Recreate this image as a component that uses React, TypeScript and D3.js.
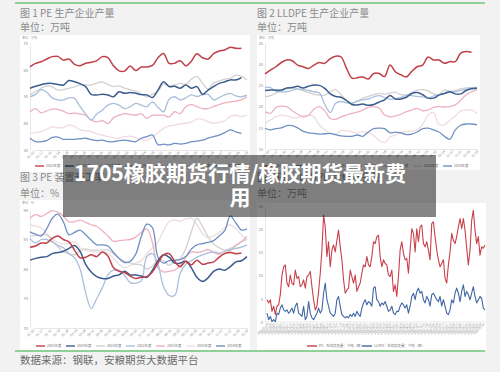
import React, { useEffect, useRef } from "react";
import * as d3 from "d3";

const font = "'Noto Sans CJK SC', 'Noto Sans', sans-serif";

// 年度图例
const years = ["2025年度", "2024年度", "2023年度", "2022年度", "2021年度", "2020年度", "2019年度"];
const yearColors = ["#c0404a", "#3b5d8e", "#d2d2d2", "#aabfdc", "#eeb1bd", "#efdce0", "#6f90c4"];
const drawOrder = [5, 2, 4, 3, 6, 1, 0];

const weekLabels = ["01-03", "01-17", "01-31", "02-14", "02-28", "03-14", "03-28", "04-11", "04-25",
  "05-09", "05-23", "06-06", "06-20", "07-04", "07-18", "08-01", "08-15", "08-29", "09-12",
  "09-26", "10-10", "10-24", "11-07", "11-21", "12-05", "12-19"];

// 图1 PE 生产企业产量（万吨）
const pe2025 = [61.1, 62.4, 63.0, 64.0, 64.9, 65.0, 63.6, 64.0, 62.0, 61.5, 62.4, 62.8, 63.4, 64.9, 64.5, 61.5, 59.6, 59.5, 61.4, 59.7, 61.0, 61.0, 61.6, 64.5, 66.1, 62.4, 62.4, 63.4, 61.5, 63.2, 66.0, 64.5, 64.0, 66.0, 67.0, 67.4, 68.4, 68.0, 68.0];
const pe2024 = [53.1, 53.8, 54.4, 54.9, 54.9, 54.5, 54.3, 56.0, 55.5, 54.8, 53.7, 50.8, 50.6, 50.8, 50.6, 49.9, 51.8, 51.2, 51.5, 51.2, 50.7, 50.6, 49.6, 52.4, 55.5, 53.7, 53.8, 53.1, 54.3, 53.1, 53.7, 50.8, 52.4, 53.7, 54.9, 55.5, 56.2, 56.2, 57.0];
const pe2023 = [50.6, 51.8, 53.1, 54.0, 53.6, 52.4, 52.6, 53.1, 53.6, 54.3, 54.3, 54.3, 55.0, 55.5, 54.5, 53.7, 54.0, 53.1, 52.6, 52.0, 51.0, 49.9, 50.8, 52.0, 54.6, 54.0, 54.3, 54.9, 54.6, 56.5, 57.5, 55.0, 52.8, 55.0, 55.8, 56.5, 56.8, 58.0, 57.5, 56.2];
const pe2022 = [49.9, 50.8, 52.6, 51.6, 49.5, 48.7, 48.7, 49.5, 49.3, 46.2, 43.5, 41.2, 43.5, 44.9, 46.8, 47.4, 46.8, 45.5, 46.2, 47.4, 46.8, 46.2, 48.0, 46.0, 44.3, 49.0, 49.9, 48.7, 49.5, 50.6, 50.0, 50.6, 50.8, 48.7, 49.6, 50.6, 51.2, 50.2, 49.9, 50.5];
const pe2021 = [44.3, 45.5, 43.9, 44.6, 45.3, 45.2, 44.5, 43.6, 43.8, 43.4, 43.0, 41.2, 40.5, 41.0, 39.9, 42.0, 43.0, 43.6, 43.3, 43.0, 43.6, 41.8, 43.0, 43.0, 43.0, 42.4, 44.3, 43.6, 46.2, 47.0, 46.2, 45.5, 45.5, 46.2, 47.0, 47.6, 48.0, 48.3, 48.7, 49.9];
const pe2020 = [36.2, 36.5, 36.9, 37.8, 38.7, 38.3, 38.4, 39.3, 38.8, 37.5, 37.2, 36.9, 36.0, 35.6, 35.0, 34.6, 34.4, 35.0, 35.2, 34.6, 34.0, 33.7, 34.8, 36.5, 38.1, 39.0, 39.3, 39.8, 40.0, 40.4, 41.5, 41.5, 40.5, 40.0, 40.3, 41.0, 42.5, 43.0, 42.5, 43.0];
const pe2019 = [34.4, 33.1, 33.1, 33.5, 34.7, 34.8, 34.0, 34.0, 34.0, 34.2, 34.4, 33.9, 33.5, 33.7, 33.1, 33.1, 33.5, 33.7, 33.4, 33.1, 34.4, 35.0, 35.6, 32.0, 32.2, 31.9, 32.5, 32.2, 32.5, 33.1, 33.3, 33.7, 34.4, 35.0, 35.6, 36.5, 37.5, 36.8, 36.2];
const peTicks = [30, 40, 50, 60, 70];

// 图2 LLDPE 生产企业产量（万吨）
const ll2025 = [27.7, 28.6, 29.4, 30.4, 31.0, 30.8, 29.8, 29.4, 29.0, 29.8, 30.4, 30.2, 31.3, 31.9, 31.7, 29.0, 26.7, 26.8, 27.0, 26.5, 27.8, 27.8, 27.1, 29.8, 28.2, 27.5, 27.0, 28.3, 29.4, 29.8, 31.7, 31.0, 31.0, 30.2, 30.6, 30.6, 32.6, 33.0, 32.8];
const ll2024 = [23.8, 23.9, 23.9, 23.9, 24.4, 24.5, 24.8, 24.4, 24.8, 25.1, 25.0, 24.3, 23.0, 22.4, 22.2, 21.4, 20.5, 20.4, 20.6, 20.3, 20.5, 21.1, 21.6, 22.6, 21.8, 21.8, 22.2, 23.1, 23.3, 22.8, 22.0, 22.0, 22.7, 23.1, 23.5, 23.0, 23.0, 23.8, 24.2, 24.3];
const ll2023 = [22.3, 22.6, 23.2, 23.7, 24.2, 24.3, 24.2, 23.8, 23.3, 22.9, 22.7, 22.7, 23.5, 24.0, 22.8, 21.5, 20.8, 21.3, 22.0, 22.4, 22.8, 23.1, 22.9, 23.2, 23.4, 22.8, 22.8, 23.3, 23.9, 24.0, 23.7, 23.0, 22.8, 23.9, 23.6, 23.8, 24.2, 24.4, 24.5, 24.3];
const ll2022 = [24.5, 24.5, 23.6, 23.5, 23.5, 23.8, 24.2, 24.0, 23.8, 23.5, 23.2, 20.5, 18.6, 20.8, 21.2, 20.9, 20.8, 21.3, 21.6, 21.8, 22.3, 22.6, 22.1, 21.7, 21.9, 22.2, 22.6, 22.6, 22.4, 22.3, 22.0, 22.5, 22.8, 23.1, 23.4, 23.5, 23.8, 24.1, 24.4, 24.5];
const ll2021 = [18.8, 18.4, 19.8, 20.1, 20.0, 19.0, 18.2, 17.6, 17.9, 19.4, 20.0, 19.0, 17.2, 17.0, 17.6, 18.0, 18.4, 18.7, 19.2, 19.8, 20.0, 19.6, 18.0, 17.6, 17.8, 18.2, 18.8, 19.2, 19.6, 19.0, 19.2, 19.8, 20.0, 19.9, 20.0, 20.4, 21.5, 22.8, 23.5, 24.0];
const ll2020 = [16.1, 16.8, 17.6, 18.0, 17.8, 17.4, 17.4, 17.8, 18.0, 17.6, 15.6, 14.6, 13.6, 13.4, 14.4, 14.3, 14.0, 13.8, 14.1, 13.8, 13.2, 12.0, 11.5, 12.8, 13.3, 13.9, 14.1, 14.3, 14.5, 15.8, 18.0, 18.6, 15.8, 15.7, 16.8, 17.8, 19.0, 19.2, 19.2, 18.4];
const ll2019 = [14.9, 14.5, 14.8, 15.0, 15.5, 15.5, 15.0, 14.2, 13.8, 13.7, 13.5, 13.6, 13.7, 13.4, 13.1, 13.0, 13.0, 13.3, 13.0, 14.0, 14.8, 14.9, 14.8, 13.8, 14.0, 13.8, 13.4, 13.5, 14.0, 14.8, 14.9, 14.5, 14.0, 13.0, 12.3, 14.5, 15.6, 15.9, 15.9, 15.7];
const llTicks = [10, 15, 20, 25, 30, 35];

// 图3 PE 装置开工率（%）
const rate2025 = [83.7, 83.9, 84.4, 84.4, 85.2, 85.6, 85.0, 84.6, 83.2, 81.9, 82.0, 82.4, 82.1, 82.9, 82.2, 80.2, 79.6, 79.4, 78.8, 78.4, 78.6, 78.7, 79.5, 81.0, 82.4, 82.6, 81.3, 80.4, 81.3, 80.7, 81.5, 80.8, 81.0, 81.2, 82.0, 82.6, 82.8, 82.6, 82.7];
const rate2024 = [81.5, 81.8, 82.0, 82.1, 82.6, 82.8, 83.0, 83.5, 84.0, 83.0, 80.8, 79.5, 78.7, 78.4, 78.4, 78.8, 79.0, 79.6, 79.0, 79.0, 78.8, 78.6, 79.8, 81.4, 82.4, 82.0, 81.0, 81.0, 81.3, 80.2, 78.6, 77.9, 78.5, 79.6, 80.0, 79.8, 80.4, 81.2, 81.4, 82.1];
const rate2023 = [85.5, 85.7, 85.8, 85.8, 84.8, 83.8, 82.9, 82.6, 82.4, 83.1, 83.4, 83.2, 83.2, 83.2, 83.2, 82.6, 81.8, 81.3, 81.0, 80.8, 80.7, 80.0, 80.5, 81.5, 81.4, 80.6, 81.4, 81.8, 83.5, 86.3, 88.6, 87.2, 85.5, 84.2, 83.6, 83.2, 83.5, 84.0, 84.6, 85.0];
const rate2022 = [85.2, 84.4, 85.0, 85.0, 84.6, 84.0, 83.6, 82.6, 81.9, 80.0, 76.0, 73.3, 75.0, 76.8, 79.0, 79.8, 79.8, 78.9, 77.7, 77.6, 78.0, 82.1, 82.6, 80.8, 77.0, 75.5, 75.5, 79.3, 80.8, 81.4, 82.0, 82.4, 82.7, 82.9, 82.7, 83.0, 83.3, 83.5, 83.7, 84.1];
const rate2021 = [88.6, 89.2, 88.9, 89.4, 89.9, 89.6, 89.0, 88.0, 88.0, 88.3, 87.9, 87.5, 87.2, 86.5, 85.6, 84.7, 84.8, 84.9, 85.0, 85.4, 86.2, 86.8, 84.5, 80.2, 79.5, 79.6, 79.8, 80.6, 82.0, 82.9, 82.8, 83.0, 83.3, 82.8, 82.5, 82.7, 83.1, 84.0, 84.6, 85.5];
const rate2020 = [87.5, 87.3, 87.0, 86.0, 85.2, 84.5, 84.2, 84.4, 84.6, 83.6, 83.2, 82.9, 82.9, 82.8, 82.7, 81.8, 80.8, 80.2, 80.6, 81.0, 81.4, 82.6, 83.6, 84.6, 86.5, 88.0, 88.3, 88.1, 88.5, 88.6, 87.5, 86.0, 85.3, 85.6, 86.2, 87.0, 87.5, 86.8, 85.8, 84.9];
const rate2019 = [86.3, 85.9, 85.6, 86.8, 88.6, 89.3, 88.0, 85.8, 86.2, 86.6, 85.8, 84.9, 84.1, 84.1, 83.9, 82.8, 81.8, 81.1, 81.3, 82.5, 85.5, 87.6, 87.0, 82.0, 81.0, 81.4, 81.5, 81.6, 82.1, 83.4, 84.1, 84.3, 84.5, 84.8, 85.6, 86.5, 89.0, 87.8, 86.6, 86.8];
const rateTicks = [70, 75, 80, 85, 90];

// 图4 检修损失量（千吨/周）
const repairNames = ["PE：检修损失量：千吨（周）", "LLDPE：检修损失量：千吨（周）"];
const repairColors = ["#c8404b", "#3f66a3"];
const peRepair = [4.8, 4.1, 4.8, 2.3, 3.4, 1.6, 3.4, 3.7, 5.9, 10.1, 11.9, 12.3, 8.4, 7.6, 10.1, 8.4, 8.0, 11.2, 9.4, 9.8, 7.6, 8.0, 9.1, 7.3, 9.8, 10.1, 10.9, 7.6, 4.8, 2.6, 3.4, 6.6, 10.5, 15.5, 23.0, 20.5, 14.1, 17.3, 11.9, 15.5, 16.6, 15.1, 17.6, 19.8, 16.2, 13.4, 9.1, 6.2, 6.9, 7.3, 11.2, 9.8, 8.4, 10.1, 6.6, 7.6, 8.4, 10.5, 12.3, 11.9, 14.1, 12.3, 11.9, 14.1, 17.3, 16.9, 18.4, 18.7, 14.1, 11.9, 13.4, 12.6, 12.3, 10.1, 9.8, 11.2, 6.6, 8.0, 5.5, 9.8, 15.5, 17.3, 14.8, 13.4, 13.7, 10.5, 15.5, 20.1, 19.1, 15.1, 20.1, 17.3, 20.5, 20.9, 16.9, 16.2, 17.3, 15.5, 13.4, 21.2, 21.6, 18.4, 15.5, 13.4, 11.9, 12.6, 13.4, 9.4, 8.4, 12.3, 15.1, 19.1, 17.6, 16.9, 18.4, 20.5, 22.3, 20.1, 22.3, 19.8, 15.9, 12.3, 15.5, 21.9, 24.1, 19.8, 16.9, 18.4, 14.4, 16.2, 15.9, 16.6];
const lldpeRepair = [1.9, 0.5, 1.2, 0.1, 0.5, 0.1, 1.9, 1.6, 3.0, 3.7, 2.6, 2.3, 2.6, 1.9, 2.3, 3.0, 1.9, 3.4, 4.1, 1.9, 1.6, 1.2, 3.4, 0.5, 1.2, 4.4, 1.9, 0.9, 0.5, 1.2, 1.9, 3.0, 1.9, 2.6, 6.2, 8.4, 4.8, 3.4, 1.9, 1.6, 1.2, 1.9, 4.8, 5.5, 3.4, 1.6, 1.2, 0.9, 1.2, 0.9, 1.6, 1.2, 1.9, 1.2, 2.3, 1.6, 1.2, 3.0, 4.1, 4.8, 3.7, 4.4, 4.1, 3.4, 7.3, 7.6, 4.8, 4.4, 3.4, 4.1, 3.7, 4.4, 3.4, 2.3, 2.6, 3.4, 1.9, 1.6, 2.3, 2.3, 3.4, 4.1, 3.7, 3.0, 3.7, 1.9, 3.4, 5.5, 6.2, 4.8, 6.6, 7.3, 6.2, 6.6, 4.8, 4.1, 5.5, 4.8, 3.4, 5.9, 6.2, 5.5, 4.8, 4.4, 5.5, 3.4, 4.8, 3.4, 1.9, 1.6, 2.6, 4.8, 4.1, 6.2, 7.3, 6.2, 4.4, 6.6, 8.0, 5.5, 6.6, 5.9, 4.8, 6.2, 7.6, 5.5, 4.1, 4.8, 5.5, 5.1, 3.0, 2.6];
const repairTicks = [0, 5, 10, 15, 20, 25];
const repairStart = new Date(2023, 0, 6);

function styleAxis(ax: any, size: number) {
  ax.select(".domain").attr("stroke", "#d6d6d6").attr("stroke-width", 0.6);
  ax.selectAll("text").attr("font-size", size).attr("fill", "#8a8a8a").attr("font-family", font);
}

function drawSeasonPanel(svg: any, p: any) {
  const g = svg.append("g");
  g.append("rect").attr("x", p.box[0]).attr("y", p.box[1]).attr("width", p.box[2]).attr("height", p.box[3]).attr("fill", "#fff");
  g.append("text").attr("x", p.box[0] + 2).attr("y", p.box[1] + 4).text(p.unit)
    .attr("font-size", 3).attr("fill", "#999").attr("font-family", font);

  const x = d3.scaleLinear().domain([0, 39]).range([p.left, p.right]);
  const y = d3.scaleLinear().domain([p.yTicks[0], p.yTicks[p.yTicks.length - 1]]).range([p.bottom, p.top]);

  const ya = g.append("g").attr("transform", `translate(${p.left},0)`)
    .call(d3.axisLeft(y).tickValues(p.yTicks).tickSize(0).tickPadding(2));
  styleAxis(ya, 4);

  const xb = d3.scalePoint().domain(weekLabels).range([p.left + 3, p.right]);
  const xa = g.append("g").attr("transform", `translate(0,${p.bottom})`)
    .call(d3.axisBottom(xb).tickSize(0).tickPadding(2));
  styleAxis(xa, 3.4);
  xa.selectAll("text").attr("text-anchor", "end").attr("dy", "0.2em").attr("y", 2).attr("x", -1)
    .attr("transform", "rotate(-45)");

  const line = d3.line<number>().x((d, i) => x(i)).y(d => y(d)).curve(d3.curveCatmullRom.alpha(0.5));
  drawOrder.forEach(k => {
    g.append("path").attr("d", line(p.series[k])).attr("fill", "none")
      .attr("stroke", yearColors[k]).attr("stroke-width", k < 2 ? 1.5 : 1.3);
  });

  const lg = g.append("g").attr("transform", `translate(${p.legendX},${p.legendY})`);
  years.forEach((name, i) => {
    const it = lg.append("g").attr("transform", `translate(${i * p.legendStep},0)`);
    it.append("line").attr("x1", 0).attr("x2", 9).attr("stroke", yearColors[i]).attr("stroke-width", 1.4);
    it.append("text").attr("x", 11).attr("dy", "0.35em").text(name)
      .attr("font-size", 3.4).attr("fill", "#777").attr("font-family", font);
  });
}

function drawRepairPanel(svg: any) {
  const g = svg.append("g");
  g.append("rect").attr("x", 257).attr("y", 203).attr("width", 229).attr("height", 147).attr("fill", "#fff");
  const n = peRepair.length;
  const fmt = d3.timeFormat("%Y-%m-%d");
  const weeks = d3.range(n).map(i => fmt(d3.timeDay.offset(repairStart, i * 7)));

  const x = d3.scaleLinear().domain([0, n - 1]).range([267, 485]);
  const y = d3.scaleLinear().domain([0, 25]).range([322, 206]);

  const ya = g.append("g").attr("transform", "translate(265,0)")
    .call(d3.axisLeft(y).tickValues(repairTicks).tickSize(0).tickPadding(2));
  styleAxis(ya, 4);

  const xb = d3.scalePoint().domain(weeks).range([267, 485]);
  const xa = g.append("g").attr("transform", "translate(0,322)")
    .call(d3.axisBottom(xb).tickValues(weeks.filter((d, i) => i % 2 === 0)).tickSize(0).tickPadding(2));
  xa.select(".domain").attr("d", "M265,0H485");
  styleAxis(xa, 2.8);
  xa.selectAll("text").attr("text-anchor", "end").attr("dy", "0.2em").attr("y", 2).attr("x", -1)
    .attr("transform", "rotate(-45)");

  const line = d3.line<number>().x((d, i) => x(i)).y(d => y(d)).curve(d3.curveLinear);
  [peRepair, lldpeRepair].forEach((s, k) => {
    g.append("path").attr("d", line(s)).attr("fill", "none")
      .attr("stroke", repairColors[k]).attr("stroke-width", 1.1).attr("stroke-linejoin", "round");
  });

  const lg = g.append("g").attr("transform", "translate(307,346)");
  repairNames.forEach((name, i) => {
    const it = lg.append("g").attr("transform", `translate(${i * 55},0)`);
    it.append("line").attr("x1", 0).attr("x2", 10).attr("stroke", repairColors[i]).attr("stroke-width", 1.4);
    it.append("text").attr("x", 12).attr("dy", "0.35em").text(name)
      .attr("font-size", 3.4).attr("fill", "#777").attr("font-family", font);
  });
}

export default function App() {
  const ref = useRef<SVGSVGElement>(null);

  useEffect(() => {
    const svg = d3.select(ref.current);
    svg.selectAll("*").remove();

    svg.append("rect").attr("width", 500).attr("height", 372).attr("fill", "#f2f2f2");
    svg.append("line").attr("x1", 15).attr("x2", 485).attr("y1", 3).attr("y2", 3)
      .attr("stroke", "#6cc47a").attr("stroke-width", 1.5);
    svg.append("line").attr("x1", 15).attr("x2", 485).attr("y1", 351).attr("y2", 351)
      .attr("stroke", "#6cc47a").attr("stroke-width", 1.5);

    const titles = [
      ["图 1 PE 生产企业产量", 20, 17], ["单位：万吨", 20, 31],
      ["图 2 LLDPE 生产企业产量", 257, 17], ["单位：万吨", 257, 31],
      ["图 3 PE 装置开工率", 20, 181], ["单位：%", 20, 197],
      ["图 4 PE、LLDPE 检修损失量", 257, 181], ["单位：万吨", 257, 197],
    ];
    titles.forEach(([t, x, y]) => {
      svg.append("text").attr("x", x).attr("y", y).text(t as string)
        .attr("font-size", 10).attr("fill", "#8a8a8a").attr("font-family", font);
    });

    drawSeasonPanel(svg, {
      box: [20, 35, 230, 137], left: 30, right: 247, top: 43, bottom: 150,
      yTicks: peTicks, unit: "单位：万吨",
      series: [pe2025, pe2024, pe2023, pe2022, pe2021, pe2020, pe2019],
      legendX: 35, legendY: 166, legendStep: 30,
    });
    drawSeasonPanel(svg, {
      box: [257, 35, 223, 135], left: 265, right: 477, top: 43, bottom: 149,
      yTicks: llTicks, unit: "单位：万吨",
      series: [ll2025, ll2024, ll2023, ll2022, ll2021, ll2020, ll2019],
      legendX: 263, legendY: 166, legendStep: 30,
    });
    drawSeasonPanel(svg, {
      box: [20, 200, 230, 150], left: 30, right: 247, top: 210, bottom: 328,
      yTicks: rateTicks, unit: "单位：%",
      series: [rate2025, rate2024, rate2023, rate2022, rate2021, rate2020, rate2019],
      legendX: 36, legendY: 346, legendStep: 30,
    });
    drawRepairPanel(svg);

    svg.append("text").attr("x", 20).attr("y", 364).text("数据来源：钢联，安粮期货大数据平台")
      .attr("font-size", 10.5).attr("fill", "#6a6a6a").attr("font-family", font);

    // 标题遮罩
    svg.append("rect").attr("x", 63).attr("y", 155).attr("width", 373).attr("height", 62)
      .attr("fill", "rgba(0,0,0,0.48)");
    const cap = svg.append("text").attr("fill", "#fff")
      .attr("font-size", 21).attr("font-weight", 700).attr("font-family", font);
    cap.append("tspan").attr("x", 74).attr("y", 181)
      .attr("textLength", 332).attr("lengthAdjust", "spacingAndGlyphs")
      .text("1705橡胶期货行情/橡胶期货最新费");
    cap.append("tspan").attr("x", 240).attr("y", 205).attr("text-anchor", "middle").text("用");
  }, []);

  return (
    <svg ref={ref} width={500} height={372}
      style={{ position: "absolute", left: 0, top: 0, display: "block" }} />
  );
}
